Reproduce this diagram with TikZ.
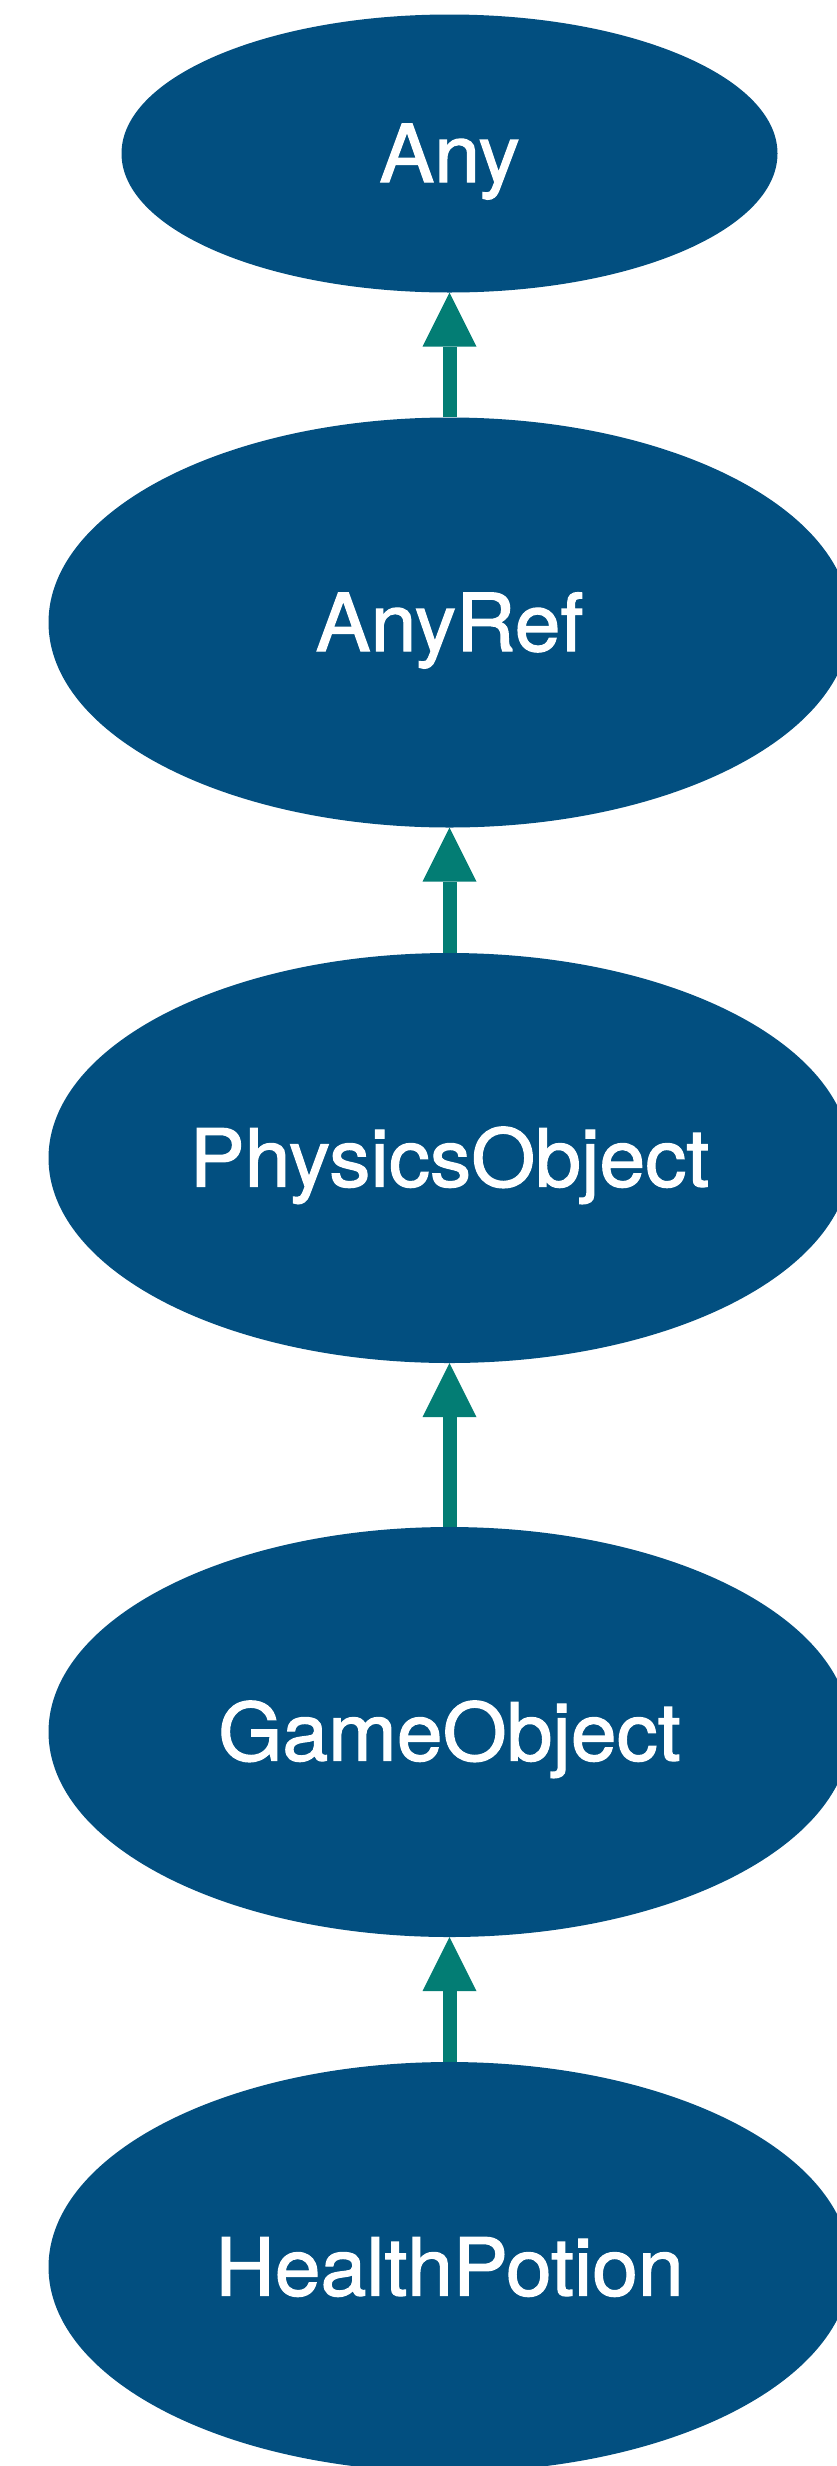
\documentclass[tikz,border=0pt]{standalone}
\usepackage{fontspec}
\newfontfamily\lblfont[FakeStretch=1.03,FakeBold=1.5]{TeX Gyre Heros}
\usetikzlibrary{shapes.geometric,arrows.meta}
\definecolor{nodeblue}{RGB}{2,79,128}
\definecolor{arrteal}{RGB}{3,125,116}
\tikzset{
  obj/.style={ellipse, fill=nodeblue, draw=none, inner sep=0pt, text=white,
    font=\lblfont\fontsize{80}{96}\selectfont, text height=57pt, text depth=0pt},
  bigobj/.style={obj, minimum width=802pt, minimum height=410pt},
  inh/.style={draw=arrteal, line width=14pt,
    -{Triangle[length=54pt,width=54pt,line width=0pt,fill=arrteal]}}
}
\begin{document}
\begin{tikzpicture}[x=1pt,y=-1pt]
\useasboundingbox (0,0) rectangle (837,2466);
\node[obj, minimum width=656pt, minimum height=278pt] (any) at (449.5,153.5) {Any};
\node[bigobj] (anyref) at (449.5,622.5) {AnyRef};
\node[bigobj] (phys) at (449.5,1158) {PhysicsObject};
\node[bigobj] (game) at (449.5,1732) {GameObject};
\node[bigobj] (potion) at (449.5,2267) {HealthPotion};
\draw[inh] (anyref) -- (any);
\draw[inh] (phys) -- (anyref);
\draw[inh] (game) -- (phys);
\draw[inh] (potion) -- (game);
\end{tikzpicture}
\end{document}
